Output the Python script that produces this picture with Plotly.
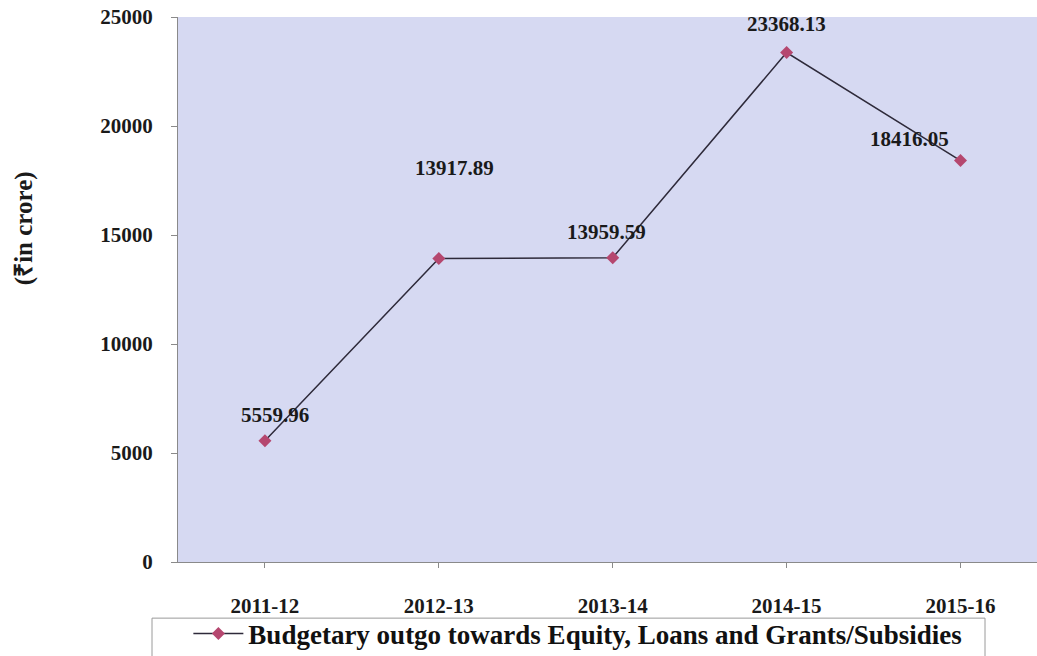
import plotly.graph_objects as go

years = ["2011-12", "2012-13", "2013-14", "2014-15", "2015-16"]
outgo = [5559.96, 13917.89, 13959.59, 23368.13, 18416.05]
labels = ["5559.96", "13917.89", "13959.59", "23368.13", "18416.05"]
series_name = "Budgetary outgo towards Equity, Loans and Grants/Subsidies"
y_ticks = [0, 5000, 10000, 15000, 20000, 25000]
y_tick_text = ["0", "5000", "10000", "15000", "20000", "25000"]

# label offsets (pixels) relative to each point: (dx, dy) with dy negative = up
label_offsets = [(10, -26), (16, -91), (-6, -26), (0, -29), (-51, -22)]

fig = go.Figure()
fig.add_trace(go.Scatter(
    x=years, y=outgo, mode="lines+markers", name="<b>" + series_name + "</b>",
    line=dict(color="#2e2a3a", width=1.5),
    marker=dict(symbol="diamond", size=10, color="#b5476f"),
))

for xv, yv, t, (dx, dy) in zip(years, outgo, labels, label_offsets):
    fig.add_annotation(x=xv, y=yv, text="<b>" + t + "</b>", showarrow=False,
                       xshift=dx, yshift=-dy,
                       font=dict(family="Liberation Serif", size=21, color="#1a1a1a"))

# y-axis title placed as a rotated annotation
fig.add_annotation(xref="paper", yref="paper", x=-0.179, y=0.613,
                   xanchor="center", yanchor="middle",
                   text="<b>(₹in crore)</b>", textangle=-90, showarrow=False,
                   font=dict(family="Liberation Serif", size=25, color="#1a1a1a"))

# legend frame
fig.add_shape(type="rect", xref="paper", yref="paper",
              x0=(152 - 178) / 859, x1=(985 - 178) / 859,
              y0=-0.103, y1=-0.2,
              line=dict(color="#9a9a9a", width=1), fillcolor="rgba(0,0,0,0)",
              layer="above")

fig.update_layout(
    width=1037, height=656,
    margin=dict(l=178, r=0, t=17, b=94, autoexpand=False),
    paper_bgcolor="white",
    plot_bgcolor="#d6d9f2",
    font=dict(family="Liberation Serif", color="#1a1a1a"),
    showlegend=True,
    legend=dict(x=0.4655, y=-0.087, xanchor="center", yanchor="top",
                orientation="h", borderwidth=0,
                bgcolor="rgba(0,0,0,0)", itemwidth=50,
                font=dict(family="Liberation Serif", size=27, color="#111")),
)

fig.update_xaxes(
    type="category", range=[-0.5, 4.44],
    showline=True, linecolor="#8a8a8a", linewidth=1,
    ticks="outside", ticklen=5, tickcolor="#8a8a8a",
    showgrid=False, ticklabelstandoff=20,
    tickfont=dict(family="Liberation Serif", size=21, color="#1a1a1a", weight="bold"),
)
fig.update_yaxes(
    range=[0, 25000], tickvals=y_ticks, ticktext=y_tick_text,
    showline=True, linecolor="#8a8a8a", linewidth=1,
    ticks="outside", ticklen=6, tickcolor="#8a8a8a",
    showgrid=False, zeroline=False, ticklabelstandoff=14,
    tickfont=dict(family="Liberation Serif", size=21, color="#1a1a1a", weight="bold"),
)

fig.write_html("out.html")
